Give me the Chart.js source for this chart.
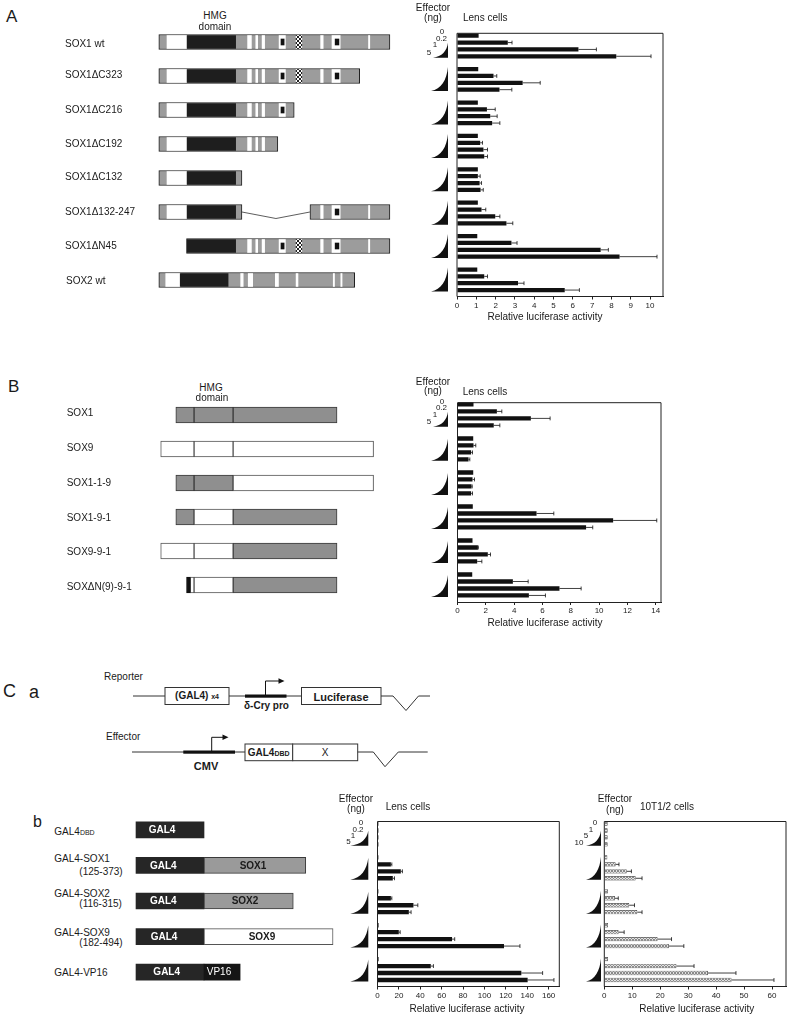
<!DOCTYPE html>
<html>
<head>
<meta charset="utf-8">
<title>SOX transactivation</title>
<script src="https://cdn.jsdelivr.net/npm/chart.js@4.4.1/dist/chart.umd.min.js"></script>
<style>
	body { margin: 0; background: #fff; }
	#fig { position: relative; width: 800px; height: 1022px; overflow: hidden; font-family: 'Liberation Sans', Arial, sans-serif; color: #1a1a1a; }
	#fig canvas, #fig svg { position: absolute; }
	.t { position: absolute; white-space: nowrap; font-size: 10px; line-height: 1; transform: translateY(-50%); }
	.c { transform: translate(-50%, -50%); }
	.r { transform: translate(-100%, -50%); }
	.b { font-weight: bold; }
	.d { font-size: 8px; }
	.sm { font-size: 7px; }
	.w { color: #fff; }
	.big { font-size: 17px; }
</style>
</head>
<body>
<div id="fig">
	<canvas id="diagA" width="250" height="272" style="left:150px;top:25px"></canvas>
	<canvas id="lensA" width="280" height="330" style="left:400px;top:0px"></canvas>
	<canvas id="diagB" width="250" height="204" style="left:150px;top:398px"></canvas>
	<canvas id="lensB" width="280" height="262" style="left:400px;top:370px"></canvas>
	<canvas id="diagC" width="210" height="178" style="left:130px;top:812px"></canvas>
	<canvas id="lensC" width="250" height="232" style="left:320px;top:790px"></canvas>
	<canvas id="tenC" width="230" height="232" style="left:570px;top:790px"></canvas>

	<svg width="360" height="110" viewBox="100 670 360 110" style="left:100px;top:670px">
		<g stroke="#333" stroke-width="1" fill="none">
			<polyline points="133,696 165,696"/>
			<rect x="165" y="687.5" width="64" height="17" fill="#fff"/>
			<polyline points="229,696 301.5,696"/>
			<rect x="301.5" y="687.5" width="79.5" height="17" fill="#fff"/>
			<polyline points="381,696 393,696 406,710.5 418.5,696 430,696"/>
			<polyline points="132,752 245,752"/>
			<rect x="245" y="744" width="47.7" height="16.7" fill="#fff"/>
			<rect x="292.7" y="744" width="65" height="16.7" fill="#fff"/>
			<polyline points="357.7,752 373.3,752 385,766.7 398.3,752 427.7,752"/>
		</g>
		<rect x="245" y="694.5" width="41.5" height="3.2" fill="#111"/>
		<rect x="183.3" y="750.5" width="51.7" height="3.2" fill="#111"/>
		<polyline points="265.5,696 265.5,681 279,681" stroke="#111" stroke-width="1" fill="none"/>
		<polygon points="278.5,678.3 284.5,681 278.5,683.7" fill="#111"/>
		<polyline points="211.7,752 211.7,737.3 223,737.3" stroke="#111" stroke-width="1" fill="none"/>
		<polygon points="222.5,734.6 228.5,737.3 222.5,740" fill="#111"/>
	</svg>

	<!-- A -->
	<div class="t big" style="left:6px;top:16px">A</div>
	<div class="t c" style="left:215px;top:16px">HMG</div>
	<div class="t c" style="left:215px;top:26.5px">domain</div>
	<div class="t" style="left:65px;top:43.5px">SOX1 wt</div>
	<div class="t" style="left:65px;top:75px">SOX1ΔC323</div>
	<div class="t" style="left:65px;top:109.7px">SOX1ΔC216</div>
	<div class="t" style="left:65px;top:144px">SOX1ΔC192</div>
	<div class="t" style="left:65px;top:177.3px">SOX1ΔC132</div>
	<div class="t" style="left:65px;top:212.3px">SOX1Δ132-247</div>
	<div class="t" style="left:65px;top:246px">SOX1ΔN45</div>
	<div class="t" style="left:66px;top:281px">SOX2 wt</div>
	<div class="t c" style="left:433px;top:7.5px">Effector</div>
	<div class="t c" style="left:433px;top:18px">(ng)</div>
	<div class="t" style="left:463px;top:18.3px">Lens cells</div>
	<div class="t c d" style="left:442px;top:32px">0</div>
	<div class="t r d" style="left:447px;top:38.5px">0.2</div>
	<div class="t c d" style="left:435px;top:45px">1</div>
	<div class="t c d" style="left:429px;top:52.5px">5</div>
	<div class="t c" style="left:545px;top:317.3px">Relative luciferase activity</div>

	<!-- B -->
	<div class="t big" style="left:8px;top:386px">B</div>
	<div class="t c" style="left:211px;top:388.3px">HMG</div>
	<div class="t c" style="left:212px;top:397.7px">domain</div>
	<div class="t" style="left:66.7px;top:413.3px">SOX1</div>
	<div class="t" style="left:66.7px;top:448.3px">SOX9</div>
	<div class="t" style="left:66.7px;top:482.7px">SOX1-1-9</div>
	<div class="t" style="left:66.7px;top:517.7px">SOX1-9-1</div>
	<div class="t" style="left:66.7px;top:551.7px">SOX9-9-1</div>
	<div class="t" style="left:66.7px;top:587.3px">SOXΔN(9)-9-1</div>
	<div class="t c" style="left:433px;top:381.7px">Effector</div>
	<div class="t c" style="left:433px;top:391px">(ng)</div>
	<div class="t" style="left:462.7px;top:391.7px">Lens cells</div>
	<div class="t c d" style="left:442px;top:401.5px">0</div>
	<div class="t r d" style="left:447px;top:408px">0.2</div>
	<div class="t c d" style="left:435px;top:414.5px">1</div>
	<div class="t c d" style="left:429px;top:422px">5</div>
	<div class="t c" style="left:545px;top:623px">Relative luciferase activity</div>

	<!-- C a -->
	<div class="t" style="left:3px;top:691px;font-size:18px">C</div>
	<div class="t" style="left:29px;top:692px;font-size:18px">a</div>
	<div class="t" style="left:104px;top:677px">Reporter</div>
	<div class="t c b" style="left:197px;top:696px">(GAL4) <span class="sm">x4</span></div>
	<div class="t c b" style="left:266.5px;top:705.5px">δ-Cry pro</div>
	<div class="t c b" style="left:341px;top:696.5px;font-size:11px">Luciferase</div>
	<div class="t" style="left:106px;top:737px">Effector</div>
	<div class="t c b" style="left:268.7px;top:752.5px">GAL4<span class="sm">DBD</span></div>
	<div class="t c" style="left:325px;top:752.5px">X</div>
	<div class="t c b" style="left:206px;top:766px;font-size:11px">CMV</div>

	<!-- C b -->
	<div class="t" style="left:33px;top:822px;font-size:16px">b</div>
	<div class="t" style="left:54.3px;top:831.7px">GAL4<span class="sm">DBD</span></div>
	<div class="t" style="left:54.3px;top:858.5px">GAL4-SOX1</div>
	<div class="t" style="left:79.3px;top:871.7px">(125-373)</div>
	<div class="t" style="left:54.3px;top:894px">GAL4-SOX2</div>
	<div class="t" style="left:79.3px;top:904.3px">(116-315)</div>
	<div class="t" style="left:54.3px;top:932.7px">GAL4-SOX9</div>
	<div class="t" style="left:79.3px;top:943.3px">(182-494)</div>
	<div class="t" style="left:54.3px;top:972.7px">GAL4-VP16</div>
	<div class="t c b w" style="left:162px;top:830px">GAL4</div>
	<div class="t c b w" style="left:163.3px;top:865.6px">GAL4</div>
	<div class="t c b" style="left:253px;top:865.6px">SOX1</div>
	<div class="t c b w" style="left:163.3px;top:901.2px">GAL4</div>
	<div class="t c b" style="left:245px;top:901.2px">SOX2</div>
	<div class="t c b w" style="left:164px;top:936.8px">GAL4</div>
	<div class="t c b" style="left:262px;top:936.8px">SOX9</div>
	<div class="t c b w" style="left:166.7px;top:972.4px">GAL4</div>
	<div class="t c w" style="left:219px;top:972.4px">VP16</div>

	<div class="t c" style="left:356px;top:798.7px">Effector</div>
	<div class="t c" style="left:356px;top:809px">(ng)</div>
	<div class="t" style="left:385.7px;top:806.7px">Lens cells</div>
	<div class="t c d" style="left:361px;top:823px">0</div>
	<div class="t c d" style="left:358px;top:829.5px">0.2</div>
	<div class="t c d" style="left:353px;top:835.5px">1</div>
	<div class="t c d" style="left:348.5px;top:842px">5</div>
	<div class="t c" style="left:467px;top:1009.3px">Relative luciferase activity</div>

	<div class="t c" style="left:615px;top:799px">Effector</div>
	<div class="t c" style="left:615px;top:810px">(ng)</div>
	<div class="t" style="left:640px;top:807px">10T1/2 cells</div>
	<div class="t c d" style="left:595px;top:823px">0</div>
	<div class="t c d" style="left:591px;top:829.5px">1</div>
	<div class="t c d" style="left:586px;top:836px">5</div>
	<div class="t c d" style="left:579px;top:842.5px">10</div>
	<div class="t c" style="left:696.7px;top:1009.3px">Relative luciferase activity</div>
</div>

<script>
const FONT = "'Liberation Sans', Arial, sans-serif";

// A: SOX1 deletion mutants in lens cells (0, 0.2, 1, 5 ng effector)
const constructsA = ['SOX1 wt', 'SOX1ΔC323', 'SOX1ΔC216', 'SOX1ΔC192', 'SOX1ΔC132', 'SOX1Δ132-247', 'SOX1ΔN45', 'SOX2 wt'];
const dosesA = ['0', '0.2', '1', '5'];
const lensA_0 = [1.12, 1.10, 1.08, 1.08, 1.08, 1.08, 1.05, 1.05];
const lensA_02 = [2.63, 1.89, 1.55, 1.20, 1.08, 1.27, 2.82, 1.41];
const lensA_1 = [6.29, 3.40, 1.72, 1.37, 1.17, 1.98, 7.44, 3.16];
const lensA_5 = [8.25, 2.20, 1.82, 1.41, 1.22, 2.56, 8.42, 5.58];
const errA_02 = [0.22, 0.17, 0.43, 0.12, 0.12, 0.22, 0.29, 0.17];
const errA_1 = [0.93, 0.91, 0.36, 0.21, 0.10, 0.24, 0.40, 0.31];
const errA_5 = [1.80, 0.64, 0.40, 0.17, 0.14, 0.33, 1.94, 0.76];
const ticksA = [0, 1, 2, 3, 4, 5, 6, 7, 8, 9, 10];

// A: domain maps (positions along SOX1)
const spansA = [[[0, 367]], [[0, 319]], [[0, 215]], [[0, 189]], [[0, 132]], [[0, 132], [240, 367]], [[44, 367]], [[0, 311]]];
const sox1White = [[13, 44], [141, 147], [154, 157], [164, 168], [257, 261], [333, 335]];
const sox1Hmg = [[45, 122]];
const sox1Boxes = [[191, 201], [275, 288]];
const sox1Cores = [[194, 199], [280, 286]];
const sox1Hatch = [[218, 227]];
const sox2White = [[11, 34], [130, 134], [142, 149], [185, 190], [218, 221], [277, 279], [289, 291]];
const sox2Hmg = [[34, 110]];

// B: SOX1 / SOX9 chimeras in lens cells
const constructsB = ['SOX1', 'SOX9', 'SOX1-1-9', 'SOX1-9-1', 'SOX9-9-1', 'SOXΔN(9)-9-1'];
const lensB_0 = [1.13, 1.11, 1.11, 1.08, 1.06, 1.04];
const lensB_02 = [2.78, 1.13, 1.06, 5.58, 1.44, 3.91];
const lensB_1 = [5.18, 0.96, 0.99, 10.99, 2.14, 7.20];
const lensB_5 = [2.56, 0.78, 0.96, 9.08, 1.39, 5.04];
const errB_02 = [0.35, 0.16, 0.14, 1.22, 0.03, 1.08];
const errB_1 = [1.36, 0.10, 0.05, 3.08, 0.19, 1.53];
const errB_5 = [0.43, 0.09, 0.10, 0.47, 0.33, 1.17];
const ticksB = [0, 2, 4, 6, 8, 10, 12, 14];

const greyB = [[[27, 56], [56, 118], [118, 283]], [], [[27, 56], [56, 118]], [[27, 56], [118, 283]], [[118, 283]], [[118, 283]]];
const whiteB = [[], [[3, 56], [56, 118], [118, 341]], [[118, 341]], [[56, 118]], [[3, 56], [56, 118]], [[50, 56], [56, 118]]];
const blackB = [[], [], [], [], [], [[44, 50]]];

// C b: GAL4 fusions, lens cells and 10T1/2 cells
const constructsC = ['GAL4DBD', 'GAL4-SOX1', 'GAL4-SOX2', 'GAL4-SOX9', 'GAL4-VP16'];
const lensC_0 = [0.8, 0.8, 0.8, 1.0, 1.0];
const lensC_02 = [0.8, 12.5, 12.5, 19.9, 49.8];
const lensC_1 = [0.8, 21.8, 33.6, 69.7, 134.5];
const lensC_5 = [0.8, 14.3, 29.3, 118.3, 140.4];
const errC_02 = [0, 0.9, 0.9, 1.3, 2.5];
const errC_1 = [0, 1.5, 4.1, 2.5, 19.9];
const errC_5 = [0, 1.6, 2.1, 14.9, 24.6];
const ticksLens = [0, 20, 40, 60, 80, 100, 120, 140, 160];

const dosesT = ['0', '1', '5', '10'];
const tenT_0 = [1.2, 1.1, 1.3, 1.3, 1.3];
const tenT_1 = [1.2, 4.05, 3.8, 5.1, 25.8];
const tenT_5 = [1.2, 8.0, 8.9, 19.05, 37.1];
const tenT_10 = [1.2, 11.2, 11.8, 23.1, 45.5];
const errT_1 = [0, 1.2, 1.2, 2.0, 6.3];
const errT_5 = [0, 1.7, 1.9, 5.0, 10.0];
const errT_10 = [0, 2.3, 1.7, 5.35, 15.2];
const ticksTen = [0, 10, 20, 30, 40, 50, 60];

const gal4C = [[0, 147]];
const greyC = [[], [[147, 367]], [[147, 340]], [], []];
const whiteC = [[], [], [], [[147, 426]], []];
const vp16C = [[], [], [], [], [[147, 225]]];

function hatch(bg, fg, size) {
	const c = document.createElement('canvas');
	c.width = c.height = size;
	const g = c.getContext('2d');
	g.fillStyle = bg;
	g.fillRect(0, 0, size, size);
	g.strokeStyle = fg;
	g.lineWidth = 1;
	g.beginPath();
	g.moveTo(0, 0);
	g.lineTo(size, size);
	g.moveTo(size, 0);
	g.lineTo(0, size);
	g.stroke();
	return g.createPattern(c, 'repeat');
}

// frame: top + right + left lines of the plot box
const framePlugin = {
	id: 'frame',
	afterDraw(chart, args, opts) {
		const a = chart.chartArea;
		const ctx = chart.ctx;
		ctx.save();
		ctx.strokeStyle = '#222';
		ctx.lineWidth = 1;
		ctx.beginPath();
		ctx.moveTo(a.left, a.bottom);
		ctx.lineTo(a.left, a.top + opts.inset);
		ctx.lineTo(a.right, a.top + opts.inset);
		ctx.lineTo(a.right, a.bottom);
		ctx.stroke();
		ctx.restore();
	},
};

// error bars (one-sided, to the right)
const errorPlugin = {
	id: 'errbars',
	afterDatasetsDraw(chart) {
		const ctx = chart.ctx;
		const x = chart.scales.x;
		ctx.save();
		ctx.strokeStyle = '#111';
		ctx.lineWidth = 0.8;
		chart.data.datasets.forEach(function (ds, i) {
			if (!ds.errors) return;
			chart.getDatasetMeta(i).data.forEach(function (bar, j) {
				const e = ds.errors[j];
				if (!e) return;
				const x0 = x.getPixelForValue(ds.data[j]);
				const x1 = x.getPixelForValue(ds.data[j] + e);
				const h = bar.height * 0.45;
				ctx.beginPath();
				ctx.moveTo(x0, bar.y);
				ctx.lineTo(x1, bar.y);
				ctx.moveTo(x1, bar.y - h);
				ctx.lineTo(x1, bar.y + h);
				ctx.stroke();
			});
		});
		ctx.restore();
	},
};

// dose wedges to the left of each group
const wedgePlugin = {
	id: 'wedges',
	afterDraw(chart, args, opts) {
		const ctx = chart.ctx;
		const y = chart.scales.y;
		const band = y.getPixelForValue(1) - y.getPixelForValue(0);
		const right = chart.chartArea.left - opts.gap;
		ctx.save();
		ctx.fillStyle = '#111';
		chart.data.labels.forEach(function (lab, i) {
			const w = i === 0 ? opts.firstWidth : opts.width;
			const h = i === 0 ? opts.firstHeight : opts.height;
			const bottom = y.getPixelForValue(i) + band * 0.41 + opts.drop;
			const left = right - w;
			const top = bottom - h;
			ctx.beginPath();
			ctx.moveTo(left, bottom);
			ctx.bezierCurveTo(left + w * 0.6, bottom - h * 0.08, right - w * 0.08, bottom - h * 0.45, right, top);
			ctx.lineTo(right, bottom);
			ctx.closePath();
			ctx.fill();
		});
		ctx.restore();
	},
};

function doseChart(id, labels, doses, values, errors, ticks, look) {
	return new Chart(document.getElementById(id), {
		type: 'bar',
		data: {
			labels: labels,
			datasets: doses.map(function (d, k) {
				return {
					label: d + ' ng',
					data: values[k],
					errors: errors[k],
					backgroundColor: look.fill,
					borderColor: '#333',
					borderWidth: look.border,
					categoryPercentage: 0.82,
					barPercentage: 0.62,
				};
			}),
		},
		options: {
			indexAxis: 'y',
			responsive: false,
			animation: false,
			events: [],
			layout: { padding: { top: look.top, right: look.right, left: 0, bottom: 0 } },
			plugins: {
				legend: { display: false },
				tooltip: { enabled: false },
				frame: { inset: look.inset },
				wedges: look.wedge,
			},
			scales: {
				x: {
					min: 0,
					max: look.max,
					border: { display: true, color: '#222', width: 1 },
					grid: { display: true, drawOnChartArea: false, drawTicks: true, tickLength: 3, color: '#222' },
					ticks: { font: { family: FONT, size: 8 }, color: '#222', padding: 1, maxRotation: 0, autoSkip: false },
					afterBuildTicks: function (s) {
						s.ticks = ticks.map(function (v) { return { value: v }; });
					},
					afterFit: function (s) { s.height = look.xh; },
				},
				y: {
					grid: { display: false },
					ticks: { display: false },
					border: { display: false },
					afterFit: function (s) { s.width = look.yw; },
				},
			},
		},
		plugins: [framePlugin, errorPlugin, wedgePlugin],
	});
}

function clipTo(spans, feats) {
	const out = [];
	spans.forEach(function (s) {
		feats.forEach(function (f) {
			const a = Math.max(s[0], f[0]);
			const b = Math.min(s[1], f[1]);
			if (b > a) out.push([a, b]);
		});
	});
	return out;
}

function layer(labels, pick, fill, thick, border, borderColor) {
	const pts = [];
	labels.forEach(function (lab, i) {
		pick(i).forEach(function (r) { pts.push({ x: r, y: lab }); });
	});
	return {
		data: pts,
		backgroundColor: fill,
		barThickness: thick,
		borderWidth: border || 0,
		borderColor: borderColor || '#222',
		borderSkipped: false,
		grouped: false,
	};
}

function diagChart(id, labels, xmin, xmax, layers, extra) {
	// first layer at the bottom: Chart.js paints lower 'order' last
	layers.forEach(function (l, k) { l.order = layers.length - k; });
	return new Chart(document.getElementById(id), {
		type: 'bar',
		data: { labels: labels, datasets: layers },
		options: {
			indexAxis: 'y',
			responsive: false,
			animation: false,
			events: [],
			plugins: { legend: { display: false }, tooltip: { enabled: false } },
			scales: {
				x: { type: 'linear', display: false, min: xmin, max: xmax },
				y: { display: false },
			},
		},
		plugins: extra || [],
	});
}

// line that joins the two halves of SOX1Δ132-247
const gapLine = {
	id: 'gapline',
	afterDatasetsDraw(chart) {
		const x = chart.scales.x;
		const y = chart.scales.y;
		const ctx = chart.ctx;
		const row = constructsA.indexOf('SOX1Δ132-247');
		const yc = y.getPixelForValue(row);
		const x0 = x.getPixelForValue(spansA[row][0][1]);
		const x1 = x.getPixelForValue(spansA[row][1][0]);
		ctx.save();
		ctx.strokeStyle = '#333';
		ctx.lineWidth = 0.8;
		ctx.beginPath();
		ctx.moveTo(x0, yc);
		ctx.lineTo((x0 + x1) / 2, yc + 6.5);
		ctx.lineTo(x1, yc);
		ctx.stroke();
		ctx.restore();
	},
};

// Panel A maps
const isSox2 = function (i) { return constructsA[i] === 'SOX2 wt'; };
diagChart('diagA', constructsA, -14, 383, [
	layer(constructsA, function (i) { return spansA[i]; }, '#9c9c9c', 15, 1, '#1e1e1e'),
	layer(constructsA, function (i) { return clipTo(spansA[i], isSox2(i) ? sox2White : sox1White); }, '#ffffff', 13),
	layer(constructsA, function (i) { return clipTo(spansA[i], isSox2(i) ? sox2Hmg : sox1Hmg); }, '#1e1e1e', 13),
	layer(constructsA, function (i) { return isSox2(i) ? [] : clipTo(spansA[i], sox1Boxes); }, '#ffffff', 13),
	layer(constructsA, function (i) { return isSox2(i) ? [] : clipTo(spansA[i], sox1Cores); }, '#111111', 6),
	layer(constructsA, function (i) { return isSox2(i) ? [] : clipTo(spansA[i], sox1Hatch); }, hatch('#ffffff', '#222222', 4), 13),
], [gapLine]);

// Panel B maps
diagChart('diagB', constructsB, -14, 383, [
	layer(constructsB, function (i) { return greyB[i]; }, '#8f8f8f', 16, 1, '#3a3a3a'),
	layer(constructsB, function (i) { return whiteB[i]; }, '#ffffff', 16, 1, '#555555'),
	layer(constructsB, function (i) { return blackB[i]; }, '#111111', 16, 1, '#111111'),
]);

// Panel C b maps
diagChart('diagC', constructsC, -13, 441, [
	layer(constructsC, function () { return gal4C; }, '#262626', 16),
	layer(constructsC, function (i) { return greyC[i]; }, '#9a9a9a', 16, 1, '#3a3a3a'),
	layer(constructsC, function (i) { return whiteC[i]; }, '#ffffff', 16, 1, '#555555'),
	layer(constructsC, function (i) { return vp16C[i]; }, '#151515', 16),
]);

// Bar charts
doseChart('lensA', constructsA, dosesA,
	[lensA_0, lensA_02, lensA_1, lensA_5], [null, errA_02, errA_1, errA_5], ticksA,
	{ fill: '#111', border: 0, max: 10.67, top: 29.3, right: 17, inset: 4, xh: 33.5, yw: 57,
		wedge: { gap: 9, width: 17, height: 24, firstWidth: 15, firstHeight: 15, drop: -2 } });

doseChart('lensB', constructsB, dosesA,
	[lensB_0, lensB_02, lensB_1, lensB_5], [null, errB_02, errB_1, errB_5], ticksB,
	{ fill: '#111', border: 0, max: 14.37, top: 27.9, right: 19, inset: 4.8, xh: 30, yw: 57.5,
		wedge: { gap: 9.5, width: 17, height: 22, firstWidth: 15, firstHeight: 15, drop: -2 } });

doseChart('lensC', constructsC, dosesA,
	[lensC_0, lensC_02, lensC_1, lensC_5], [null, errC_02, errC_1, errC_5], ticksLens,
	{ fill: '#111', border: 0, max: 170, top: 27, right: 10.7, inset: 4.5, xh: 35.5, yw: 57.5,
		wedge: { gap: 9.2, width: 18, height: 22, firstWidth: 18, firstHeight: 15, drop: -2 } });

doseChart('tenC', constructsC, dosesT,
	[tenT_0, tenT_1, tenT_5, tenT_10], [null, errT_1, errT_5, errT_10], ticksTen,
	{ fill: hatch('#e2e2e2', '#8a8a8a', 3), border: 0.7, max: 65, top: 27, right: 14, inset: 4.5, xh: 35.5, yw: 34.3,
		wedge: { gap: 3.3, width: 15, height: 23, firstWidth: 15, firstHeight: 15, drop: -2 } });
</script>
</body>
</html>
